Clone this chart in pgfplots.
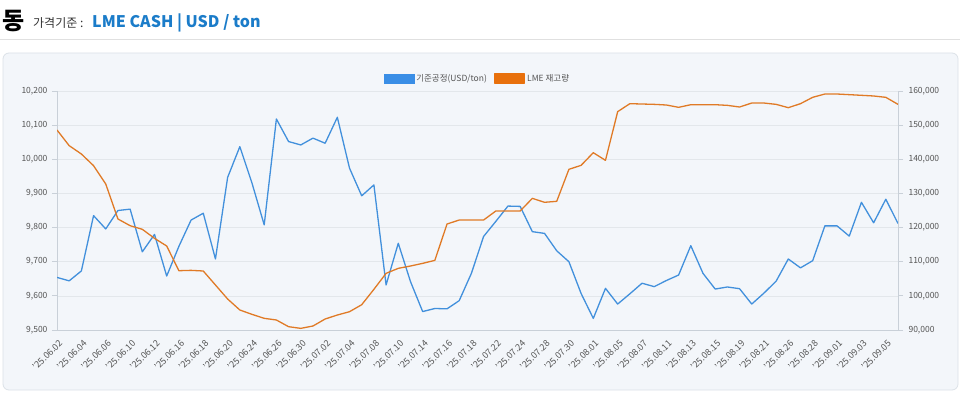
\documentclass[border=0pt]{standalone}
\usepackage{fontspec}
\setmainfont{Noto Sans CJK KR}
\usepackage{pgfplots}
\pgfplotsset{compat=1.18}
\definecolor{lineblue}{HTML}{4290DC}
\definecolor{lineorange}{HTML}{E07A26}
\definecolor{legblue}{HTML}{3A8EE6}
\definecolor{legorange}{HTML}{E8700C}
\definecolor{titleblue}{HTML}{1B7CC9}
\definecolor{panelbg}{HTML}{F3F6FA}
\definecolor{panelborder}{HTML}{DCE2E8}
\definecolor{gridc}{HTML}{E3E7EB}
\definecolor{axisc}{HTML}{C9D0D8}
\definecolor{ticktext}{HTML}{555555}

\pgfplotstableread{
i v
0 9654
1 9644
2 9673
3 9835
4 9796
5 9850
6 9854
7 9729
8 9780
9 9658
10 9745
11 9822
12 9842
13 9708
14 9947
15 10037
16 9930
17 9808
18 10118
19 10052
20 10042
21 10062
22 10047
23 10123
24 9974
25 9893
26 9925
27 9632
28 9754
29 9642
30 9554
31 9563
32 9562
33 9586
34 9666
35 9774
36 9818
37 9863
38 9862
39 9788
40 9783
41 9732
42 9700
43 9607
44 9534
45 9622
46 9576
47 9606
48 9637
49 9627
50 9645
51 9661
52 9747
53 9666
54 9620
55 9626
56 9621
57 9576
58 9608
59 9643
60 9708
61 9682
62 9703
63 9805
64 9805
65 9775
66 9874
67 9814
68 9883
69 9812
}\pricetable

\pgfplotstableread{
i v
0 148580
1 143990
2 141550
3 138130
4 132760
5 122510
6 120550
7 119490
8 116850
9 114600
10 107370
11 107470
12 107280
13 103180
14 99080
15 95860
16 94580
17 93420
18 92930
19 90970
20 90480
21 91170
22 93220
23 94390
24 95360
25 97410
26 101910
27 106600
28 108060
29 108740
30 109520
31 110400
32 121040
33 122210
34 122210
35 122210
36 124850
37 124850
38 124850
39 128560
40 127400
41 127690
42 137060
43 138230
44 141930
45 139690
46 153950
47 156290
48 156190
49 156090
50 155900
51 155220
52 155990
53 155990
54 155990
55 155800
56 155310
57 156480
58 156480
59 156090
60 155120
61 156290
62 158150
63 159120
64 159120
65 158930
66 158740
67 158540
68 158150
69 156090
}\stocktable

\begin{document}
\begin{tikzpicture}[x=1pt,y=1pt]
\path[use as bounding box] (0,0) rectangle (960,394);
\fill[white] (0,0) rectangle (960,394);
% title
\node[anchor=base west, inner sep=0pt] at (2,364) {\fontsize{24}{24}\selectfont\bfseries 동};
\node[anchor=base west, inner sep=0pt, text=black!80] at (33,366) {\fontsize{12}{12}\selectfont 가격기준 :};
\node[anchor=base west, inner sep=0pt, text=titleblue] at (92,366) {\fontsize{16}{16}\selectfont\bfseries LME CASH | USD / ton};
\draw[black!12, line width=1pt] (0,354) -- (960,354);
% panel
\draw[panelborder, fill=panelbg, rounded corners=6pt, line width=0.8pt] (3,4) rectangle (958,341);

\pgfplotsset{
  mybase/.style={
    at={(57pt,64pt)}, anchor=south west,
    width=841pt, height=239pt, scale only axis,
    xmin=0, xmax=69,
    axis line style={axisc, line width=0.8pt},
    tick style={axisc, line width=0.8pt},
    tick align=outside, major tick length=5pt,
    ticklabel style={font=\fontsize{8.5}{8.5}\selectfont, text=ticktext},
    scaled y ticks=false,
  }
}

\begin{axis}[mybase,
  ymin=9500, ymax=10200, ytick={9500,9600,...,10200},
  yticklabels={{9,500},{9,600},{9,700},{9,800},{9,900},{10,000},{10,100},{10,200}},
  axis y line*=left, axis x line*=bottom,
  ymajorgrids, grid style={gridc, line width=0.7pt},
  xtick={0,2,...,68},
  xticklabels={'25.06.02,'25.06.04,'25.06.06,'25.06.10,'25.06.12,'25.06.16,'25.06.18,'25.06.20,'25.06.24,'25.06.26,'25.06.30,'25.07.02,'25.07.04,'25.07.08,'25.07.10,'25.07.14,'25.07.16,'25.07.18,'25.07.22,'25.07.24,'25.07.28,'25.07.30,'25.08.01,'25.08.05,'25.08.07,'25.08.11,'25.08.13,'25.08.15,'25.08.19,'25.08.21,'25.08.26,'25.08.28,'25.09.01,'25.09.03,'25.09.05},
  xtick style={draw=none},
  xticklabel style={xshift=6pt, yshift=-4pt, rotate=45, anchor=east, font=\fontsize{9}{9}\selectfont},
  yticklabel style={xshift=-1pt},
]
\addplot[lineblue, line width=1.3pt, line join=round] table[x=i, y=v] {\pricetable};
\end{axis}

\begin{axis}[mybase,
  ymin=90000, ymax=160000, ytick={90000,100000,...,160000},
  yticklabels={{90,000},{100,000},{110,000},{120,000},{130,000},{140,000},{150,000},{160,000}},
  axis y line*=right, axis x line=none,
  xtick=\empty,
  yticklabel style={xshift=2pt},
  legend style={at={(0.5,1)}, anchor=south, yshift=4pt, draw=none, fill=none,
    legend columns=2, font=\fontsize{8.5}{8.5}\selectfont, text=ticktext,
    /tikz/every even column/.append style={column sep=5pt}},
  legend cell align=left,
]
\addlegendimage{legend image code/.code={\fill[legblue] (0pt,-4.5pt) rectangle (30pt,4.5pt);}}
\addlegendentry{기준공정(USD/ton)}
\addplot[lineorange, line width=1.3pt, line join=round,
  legend image code/.code={\fill[legorange] (0pt,-4.5pt) rectangle (30pt,4.5pt);}] table[x=i, y=v] {\stocktable};
\addlegendentry{LME 재고량}
\end{axis}
\end{tikzpicture}
\end{document}
